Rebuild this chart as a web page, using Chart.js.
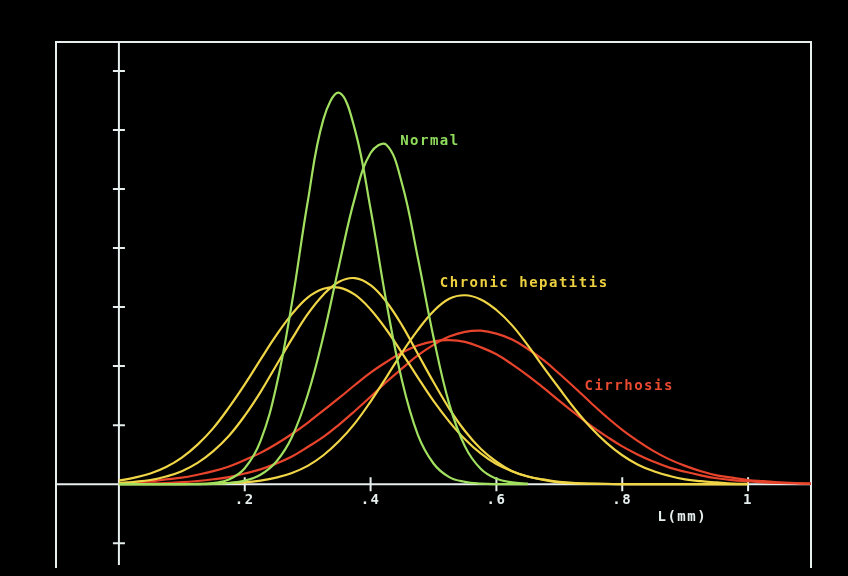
<!DOCTYPE html>
<html>
<head>
<meta charset="utf-8">
<script src="https://cdn.jsdelivr.net/npm/chart.js@4/dist/chart.umd.min.js"></script>
<style>
  html, body { margin: 0; padding: 0; background: #000; }
  #wrap { width: 848px; height: 576px; }
</style>
</head>
<body>
<div id="wrap"><canvas id="chart" width="848" height="576"></canvas></div>
<script>
// L (mm) sample positions
const xs = [0, 0.025, 0.05, 0.075, 0.1, 0.125, 0.15, 0.175, 0.2, 0.225,
  0.25, 0.275, 0.3, 0.325, 0.35, 0.375, 0.4, 0.425, 0.45, 0.475,
  0.5, 0.525, 0.55, 0.575, 0.6, 0.625, 0.65, 0.675, 0.7, 0.725,
  0.75, 0.775, 0.8, 0.825, 0.85, 0.875, 0.9, 0.925, 0.95, 0.975,
  1.0, 1.025, 1.05, 1.075, 1.1];

// curves (units = one y tick)
const normal1 = [0, 0, 0, 0, 0, 0, 0.02, 0.08, 0.27, 0.73,
  1.65, 3.07, 4.78, 6.18, 6.63, 6.01, 4.66, 3.09, 1.75, 0.84,
  0.35, 0.12, 0.04, 0.01, 0, 0, 0, null, null, null,
  null, null, null, null, null, null, null, null, null, null,
  null, null, null, null, null];
const normal2 = [0, 0, 0, 0, 0, 0, 0.006, 0.02, 0.06, 0.16,
  0.38, 0.8, 1.51, 2.51, 3.71, 4.85, 5.61, 5.75, 5.09, 3.84,
  2.49, 1.36, 0.64, 0.26, 0.09, 0.03, 0.01, null, null, null,
  null, null, null, null, null, null, null, null, null, null,
  null, null, null, null, null];
const hepatitis1 = [0.06, 0.11, 0.18, 0.29, 0.45, 0.67, 0.95, 1.3, 1.69, 2.11,
  2.52, 2.88, 3.16, 3.31, 3.33, 3.21, 2.96, 2.62, 2.22, 1.81,
  1.41, 1.06, 0.76, 0.52, 0.34, 0.22, 0.13, 0.08, 0.04, 0.02,
  0.01, 0.005, 0, 0, 0, 0, 0, 0, 0, 0,
  0, null, null, null, null];
const hepatitis2 = [0.02, 0.04, 0.07, 0.13, 0.22, 0.36, 0.56, 0.82, 1.16, 1.56,
  2.01, 2.46, 2.88, 3.21, 3.43, 3.49, 3.37, 3.09, 2.69, 2.21,
  1.73, 1.28, 0.9, 0.6, 0.38, 0.22, 0.13, 0.07, 0.03, 0.015,
  0.007, 0.003, 0, 0, 0, 0, 0, 0, 0, 0,
  0, null, null, null, null];
const hepatitis3 = [0, 0, 0, 0, 0, 0.005, 0.01, 0.02, 0.03, 0.06,
  0.11, 0.19, 0.31, 0.49, 0.73, 1.03, 1.4, 1.81, 2.23, 2.61,
  2.93, 3.14, 3.2, 3.13, 2.95, 2.69, 2.35, 1.98, 1.62, 1.27,
  0.96, 0.7, 0.49, 0.33, 0.22, 0.14, 0.08, 0.05, 0.03, 0.01,
  0.005, null, null, null, null];
const cirrhosis1 = [0.005, 0.008, 0.013, 0.02, 0.033, 0.054, 0.083, 0.12, 0.18, 0.25,
  0.35, 0.47, 0.63, 0.8, 1.01, 1.24, 1.48, 1.73, 1.96, 2.18,
  2.36, 2.5, 2.58, 2.6, 2.55, 2.45, 2.29, 2.1, 1.87, 1.63,
  1.38, 1.14, 0.92, 0.73, 0.56, 0.42, 0.31, 0.22, 0.15, 0.11,
  0.07, 0.05, 0.03, 0.02, 0.01];
const cirrhosis2 = [0.02, 0.03, 0.05, 0.08, 0.11, 0.16, 0.22, 0.3, 0.41, 0.53,
  0.68, 0.85, 1.04, 1.25, 1.46, 1.68, 1.89, 2.07, 2.23, 2.35,
  2.42, 2.44, 2.41, 2.32, 2.2, 2.03, 1.84, 1.63, 1.41, 1.2,
  0.99, 0.81, 0.64, 0.5, 0.38, 0.28, 0.21, 0.15, 0.1, 0.07,
  0.05, 0.03, 0.02, 0.012, 0.008];

const xTicks = [0.2, 0.4, 0.6, 0.8, 1];
const xTickLabels = [".2", ".4", ".6", ".8", "1"];
const yTicks = [-1, 1, 2, 3, 4, 5, 6, 7];

const GREEN = "#a2e060";
const YELLOW = "#f0d646";
const RED = "#e8442c";
const WHITE = "#e6eeee";

// series labels on the screen: text, x, y (data units), colour
const curveLabels = [
  ["Normal", 0.447, 5.8, "#8fdc5c"],
  ["Chronic hepatitis", 0.51, 3.4, "#ecd040"],
  ["Cirrhosis", 0.74, 1.66, "#e84a30"]
];

function pts(ys) {
  return xs.map((x, i) => ({ x, y: ys[i] })).filter(p => p.y !== null);
}

function curve(ys, color) {
  return {
    data: pts(ys),
    borderColor: color,
    borderWidth: 2.2,
    pointRadius: 0,
    showLine: true,
    fill: false,
    tension: 0.4
  };
}

// frame, axes, ticks and texts of the old screen
const screenPlugin = {
  id: "screen",
  beforeDatasetsDraw(chart) {
    const { ctx, chartArea: a, scales: { x, y } } = chart;
    const x0 = x.getPixelForValue(0), y0 = y.getPixelForValue(0);
    ctx.save();
    ctx.strokeStyle = WHITE;
    ctx.lineWidth = 2;
    ctx.beginPath();
    ctx.moveTo(a.left, a.bottom); ctx.lineTo(a.left, a.top);
    ctx.lineTo(a.right, a.top); ctx.lineTo(a.right, a.bottom);
    ctx.moveTo(x0, a.top); ctx.lineTo(x0, a.bottom - 3);
    ctx.moveTo(a.left, y0); ctx.lineTo(a.right, y0);
    yTicks.forEach(v => {
      const py = y.getPixelForValue(v);
      ctx.moveTo(x0 - 6, py); ctx.lineTo(x0 + 6, py);
    });
    xTicks.forEach(v => {
      const px = x.getPixelForValue(v);
      ctx.moveTo(px, y0 - 7); ctx.lineTo(px, y0 + 7);
    });
    ctx.stroke();
    ctx.restore();
  },
  afterDatasetsDraw(chart) {
    const { ctx, scales: { x, y } } = chart;
    ctx.save();
    ctx.font = "bold 14px 'DejaVu Sans Mono'";
    ctx.letterSpacing = "1.5px";
    ctx.textBaseline = "middle";
    ctx.fillStyle = WHITE;
    ctx.textAlign = "center";
    xTicks.forEach((v, i) => {
      ctx.fillText(xTickLabels[i], x.getPixelForValue(v), y.getPixelForValue(-0.27));
    });
    ctx.textAlign = "left";
    ctx.fillText("L(mm)", x.getPixelForValue(0.856), y.getPixelForValue(-0.56));
    curveLabels.forEach(([t, lx, ly, c]) => {
      ctx.fillStyle = c;
      ctx.fillText(t, x.getPixelForValue(lx), y.getPixelForValue(ly));
    });
    ctx.restore();
  }
};

new Chart(document.getElementById("chart"), {
  type: "scatter",
  data: {
    datasets: [
      curve(normal1, GREEN),
      curve(normal2, GREEN),
      curve(hepatitis1, YELLOW),
      curve(hepatitis2, YELLOW),
      curve(hepatitis3, YELLOW),
      curve(cirrhosis1, RED),
      curve(cirrhosis2, RED)
    ]
  },
  options: {
    responsive: false,
    animation: false,
    layout: { padding: { left: 56, top: 42, right: 37, bottom: 8 } },
    plugins: { legend: { display: false }, tooltip: { enabled: false } },
    scales: {
      x: { type: "linear", min: -0.1, max: 1.1, display: false },
      y: { type: "linear", min: -1.42, max: 7.49, display: false }
    }
  },
  plugins: [screenPlugin]
});
</script>
</body>
</html>
